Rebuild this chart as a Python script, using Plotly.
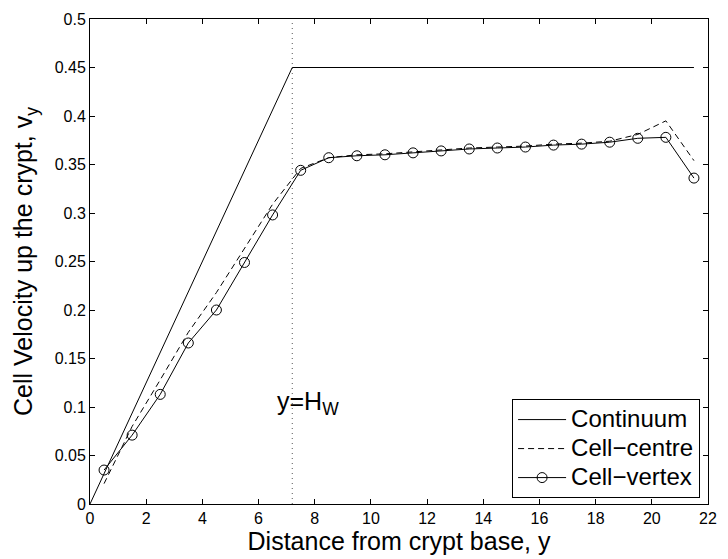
import plotly.graph_objects as go

# distance from crypt base
y_cells = [0.5, 1.5, 2.5, 3.5, 4.5, 5.5, 6.5, 7.5, 8.5, 9.5, 10.5,
           11.5, 12.5, 13.5, 14.5, 15.5, 16.5, 17.5, 18.5, 19.5, 20.5, 21.5]

vertex_v = [0.035, 0.071, 0.113, 0.166, 0.200, 0.249, 0.298, 0.344, 0.357, 0.359, 0.360,
            0.362, 0.364, 0.366, 0.367, 0.368, 0.370, 0.371, 0.373, 0.377, 0.378, 0.336]

centre_v = [0.021, 0.080, 0.128, 0.177, 0.218, 0.264, 0.309, 0.346, 0.357, 0.360, 0.361,
            0.363, 0.365, 0.367, 0.368, 0.369, 0.371, 0.372, 0.374, 0.381, 0.395, 0.354]

h_w = 7.2
continuum_y = [0, h_w, 21.5]
continuum_v = [0, 0.45, 0.45]
hw_line_v = [0, 0.5]

font = "Liberation Sans, Arial, sans-serif"


def big(name):
    # bigger legend text without taller legend rows
    return '<span style="font-size:24px">' + name + "</span>"


fig = go.Figure()
fig.add_trace(go.Scatter(
    x=[h_w, h_w], y=hw_line_v, mode="lines", showlegend=False,
    line=dict(color="#555555", width=1, dash="1px,4px"),
))
fig.add_trace(go.Scatter(
    name=big("Continuum"), x=continuum_y, y=continuum_v, mode="lines",
    line=dict(color="black", width=1),
))
fig.add_trace(go.Scatter(
    name=big("Cell\u2212centre"), x=y_cells, y=centre_v, mode="lines",
    line=dict(color="black", width=1, dash="6px,4px"),
))
fig.add_trace(go.Scatter(
    name=big("Cell\u2212vertex"), x=y_cells, y=vertex_v, mode="lines+markers",
    line=dict(color="black", width=1),
    marker=dict(symbol="circle-open", size=10, color="black", line=dict(width=1)),
))

# label for the vertical H_W line
fig.add_annotation(
    x=6.6, y=0.104, text="y=H<sub>W</sub>", showarrow=False,
    font=dict(family=font, size=25, color="black"),
    xanchor="left", yanchor="middle",
)

axis_common = dict(
    showline=True, linecolor="black", linewidth=1, mirror="ticks",
    ticks="inside", ticklen=5, tickcolor="black", showgrid=False, zeroline=False,
    tickfont=dict(family=font, size=16, color="black"),
)

fig.update_xaxes(
    range=[0, 22], tickvals=list(range(0, 23, 2)),
    title=dict(text="Distance from crypt base, y", standoff=0,
               font=dict(family=font, size=25, color="black")),
    **axis_common,
)
fig.update_yaxes(
    range=[0, 0.5], tickvals=[0, 0.05, 0.1, 0.15, 0.2, 0.25, 0.3, 0.35, 0.4, 0.45, 0.5],
    ticktext=["0", "0.05", "0.1", "0.15", "0.2", "0.25", "0.3", "0.35", "0.4", "0.45", "0.5"],
    title=dict(text="Cell Velocity up the crypt, v<sub>y</sub>", standoff=14,
               font=dict(family=font, size=25, color="black")),
    **axis_common,
)

fig.update_layout(
    width=728, height=559,
    margin=dict(l=90, r=11, t=14, b=55),
    plot_bgcolor="white", paper_bgcolor="white",
    font=dict(family=font, color="black"),
    legend=dict(
        x=0.9872, y=0.0122, xanchor="right", yanchor="bottom",
        bordercolor="black", borderwidth=1, bgcolor="white",
        font=dict(family=font, size=20, color="black"),
        tracegroupgap=0, itemwidth=48,
    ),
)

# drop the default 8px page margin so the figure fills the window
fig.write_html(
    "out.html",
    config={"displayModeBar": False},
    post_script="document.body.style.margin='0';",
)
